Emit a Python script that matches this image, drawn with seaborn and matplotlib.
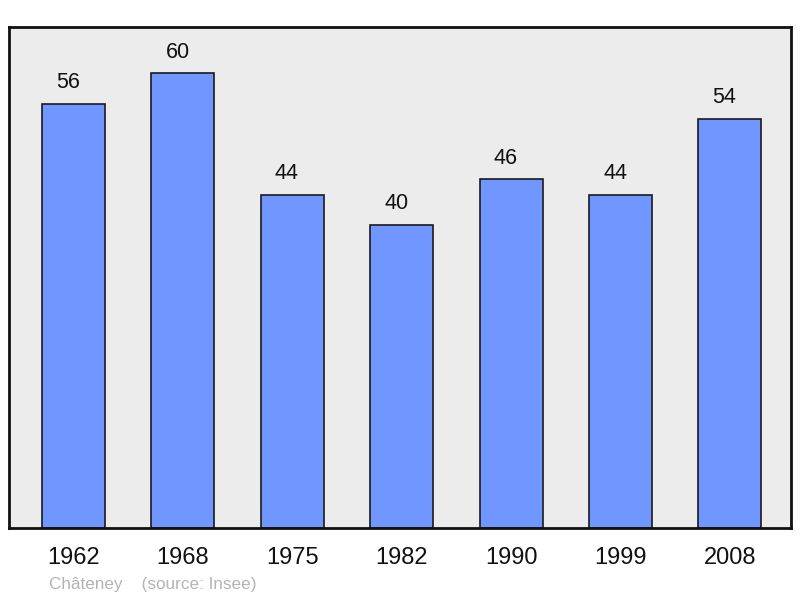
import matplotlib
matplotlib.use("Agg")
import matplotlib.pyplot as plt
import seaborn as sns
import pandas as pd

years = ["1962", "1968", "1975", "1982", "1990", "1999", "2008"]
population = [56, 60, 44, 40, 46, 44, 54]
source_text = "Châteney    (source: Insee)"

sns.set_style("white")
plt.rcParams["font.family"] = ["Liberation Sans", "DejaVu Sans"]

df = pd.DataFrame({"year": years, "pop": population})

fig = plt.figure(figsize=(8, 5.98), dpi=100)
ax = fig.add_axes([9 / 800, 70 / 598, 782 / 800, 501 / 598])
ax.set_facecolor("#ececec")

sns.barplot(data=df, x="year", y="pop", color="#7097ff", saturation=1,
            edgecolor="#1a1a1a", linewidth=1.2, width=0.576, ax=ax)

# value labels sit a bit left of the bar centre, like the original
for i, v in enumerate(population):
    ax.annotate(str(v), (i, v), xytext=(-3.8, 7.5), textcoords="offset points",
                ha="center", va="bottom", fontsize=15.5, color="#111111")

ax.set_xlim(-0.59, 6.56)
ax.set_ylim(0, 66.1)
ax.set_xlabel("")
ax.set_ylabel("")
ax.set_yticks([])
ax.tick_params(axis="x", length=0, labelsize=17, pad=13.5, colors="#111111")
for s in ax.spines.values():
    s.set_visible(True)
    s.set_color("#111111")
    s.set_linewidth(2)

fig.text(49 / 800, 1 - 584 / 598, source_text, fontsize=12.3, color="#b4b4b4",
         ha="left", va="center")

fig.savefig("out.png", dpi=100)
